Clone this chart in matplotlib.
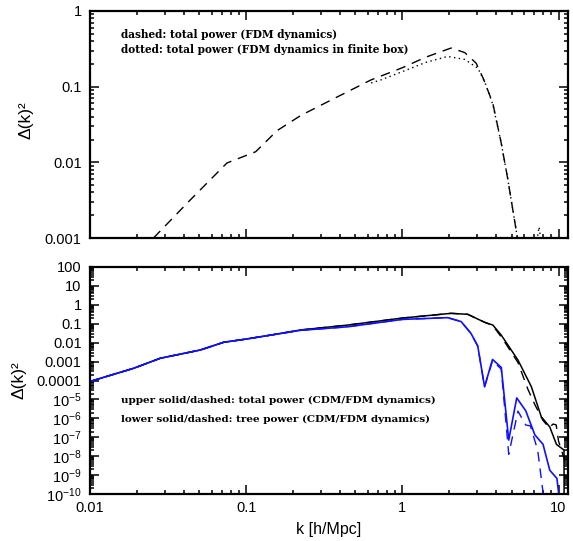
import numpy as np
import matplotlib
matplotlib.use("Agg")
import matplotlib.pyplot as plt
from matplotlib.ticker import LogLocator, FixedLocator, FixedFormatter, NullFormatter

# ---------------- data ----------------
# top panel: FDM total power (dashed) and FDM total power in finite box (dotted)
top_dash_k = [0.0255, 0.0437, 0.0753, 0.115, 0.158, 0.224, 0.355, 0.631, 1.0, 1.41,
              2.05, 2.51, 2.97, 3.31, 3.80, 4.30, 4.74, 5.10, 5.56]
top_dash_D = [0.0010, 0.00316, 0.0098, 0.0138, 0.0263, 0.0417, 0.0676, 0.123, 0.178, 0.245,
              0.324, 0.282, 0.204, 0.126, 0.060, 0.0178, 0.0059, 0.00234, 0.00079]

top_dot_k = [0.631, 0.73, 1.0, 1.41, 1.95, 2.51, 3.05, 3.39, 3.80, 4.30, 4.74, 5.10, 5.56,
             np.nan, 7.2, 7.5, 7.8]
top_dot_D = [0.112, 0.123, 0.158, 0.209, 0.251, 0.229, 0.175, 0.112, 0.0575, 0.0178, 0.0059,
             0.00234, 0.00079, np.nan, 0.0008, 0.0014, 0.0008]

# bottom panel
cdm_total_k = [0.0100, 0.0190, 0.0282, 0.0509, 0.0718, 0.100, 0.143, 0.223, 0.446, 1.00,
               2.05, 2.62, 3.36, 3.80, 4.30, 5.50, 6.70, 7.76, 8.79, 9.70, 10.84, 10.86]
cdm_total_D = [8.9e-5, 4.4e-4, 1.5e-3, 4.1e-3, 1.05e-2, 1.55e-2, 2.5e-2, 4.7e-2, 8.5e-2, 0.20,
               0.355, 0.316, 0.12, 0.085, 0.025, 1.2e-3, 4.7e-5, 1.2e-6, 3.5e-7, 4.2e-8, 2.1e-8, 3e-11]

fdm_total_k = [0.0100, 0.0190, 0.0282, 0.0509, 0.0718, 0.100, 0.143, 0.223, 0.446, 1.00,
               2.05, 2.62, 3.36, 3.80, 4.30, 4.72, 5.50, 6.37, 7.08, 7.94, 8.71, 9.23, 9.66,
               10.0, 10.84, 11.2]
fdm_total_D = [8.9e-5, 4.4e-4, 1.5e-3, 4.1e-3, 1.05e-2, 1.55e-2, 2.5e-2, 4.7e-2, 8.5e-2, 0.20,
               0.355, 0.316, 0.12, 0.079, 0.020, 6.3e-3, 8.9e-4, 3.4e-5, 5e-6, 7.9e-7, 3.2e-7,
               5e-7, 4.5e-7, 6.3e-8, 7.9e-9, 2.5e-9]

cdm_tree_k = [0.0100, 0.0190, 0.0282, 0.0509, 0.0718, 0.100, 0.143, 0.223, 0.446, 1.00,
              1.95, 2.38, 2.75, 3.04, 3.36, 3.78, 4.30, 4.80, 5.40, 6.17, 7.05, 7.96, 8.79,
              9.77, 10.2]
cdm_tree_D = [8.9e-5, 4.4e-4, 1.5e-3, 4.1e-3, 1.05e-2, 1.55e-2, 2.5e-2, 4.5e-2, 6.9e-2, 0.17,
              0.21, 0.13, 0.031, 6.6e-3, 4.7e-5, 1.3e-3, 4.9e-4, 7.1e-8, 1.2e-5, 2.5e-6,
              1.35e-7, 4.2e-8, 1.8e-9, 6.6e-10, 3e-11]

fdm_tree_k = [0.0100, 0.0190, 0.0282, 0.0509, 0.0718, 0.100, 0.143, 0.223, 0.446, 1.00,
              1.95, 2.38, 2.75, 3.04, 3.36, 3.78, 4.30, 4.80, 5.50, 6.17, 6.61, 7.36, 8.13]
fdm_tree_D = [8.9e-5, 4.4e-4, 1.5e-3, 4.1e-3, 1.05e-2, 1.55e-2, 2.5e-2, 4.5e-2, 6.9e-2, 0.17,
              0.21, 0.13, 0.031, 6.6e-3, 4.7e-5, 1.1e-3, 4.0e-4, 1.26e-8, 2.4e-6, 4.4e-7,
              4.0e-7, 2.0e-8, 3e-11]

top_yticks = [0.001, 0.01, 0.1, 1]
top_yticklabels = ["0.001", "0.01", "0.1", "1"]
bot_yticks = [1e2, 1e1, 1, 1e-1, 1e-2, 1e-3, 1e-4, 1e-5, 1e-6, 1e-7, 1e-8, 1e-9, 1e-10]
bot_yticklabels = ["100", "10", "1", "0.1", "0.01", "0.001", "0.0001",
                   r"$10^{-5}$", r"$10^{-6}$", r"$10^{-7}$", r"$10^{-8}$", r"$10^{-9}$", r"$10^{-10}$"]
xticks = [0.01, 0.1, 1, 10]
xticklabels = ["0.01", "0.1", "1", "10"]

top_text = ["dashed: total power (FDM dynamics)",
            "dotted: total power (FDM dynamics in finite box)"]
bot_text = ["upper solid/dashed: total power (CDM/FDM dynamics)",
            "lower solid/dashed: tree power (CDM/FDM dynamics)"]

# ---------------- styling ----------------
plt.rcParams['font.family'] = ['Liberation Sans', 'DejaVu Sans']
plt.rcParams['mathtext.fontset'] = 'custom'
plt.rcParams['mathtext.rm'] = 'Liberation Sans'
plt.rcParams['mathtext.it'] = 'Liberation Sans'

W, H = 573, 541
fig = plt.figure(figsize=(W / 100, H / 100), dpi=100)

def px_axes(x0, y0, x1, y1):
    return fig.add_axes([x0 / W, 1 - y1 / H, (x1 - x0) / W, (y1 - y0) / H])

ax1 = px_axes(90, 11, 568, 238)
ax2 = px_axes(90, 267, 568, 494)

XMIN, XMAX = 0.01, 11.5
TICKFS = 10.5
BLUE = '#1010ff'

for ax in (ax1, ax2):
    ax.set_xscale('log')
    ax.set_yscale('log')
    ax.set_xlim(XMIN, XMAX)
    for s in ax.spines.values():
        s.set_linewidth(1.6)
    ax.tick_params(which='both', direction='in', top=True, right=True, width=1.1, labelsize=TICKFS)
    ax.tick_params(which='major', length=6.5, pad=6)
    ax.tick_params(which='minor', length=3.2)
    ax.xaxis.set_major_locator(FixedLocator(xticks))
    ax.xaxis.set_minor_locator(LogLocator(base=10, subs=np.arange(2, 10), numticks=20))
    ax.yaxis.set_minor_locator(LogLocator(base=10, subs=np.arange(2, 10), numticks=40))
    ax.xaxis.set_minor_formatter(NullFormatter())
    ax.yaxis.set_minor_formatter(NullFormatter())

# top panel
ax1.set_ylim(0.001, 1)
ax1.yaxis.set_major_locator(FixedLocator(top_yticks))
ax1.yaxis.set_major_formatter(FixedFormatter(top_yticklabels))
ax1.xaxis.set_major_formatter(NullFormatter())
ax1.plot(top_dash_k, top_dash_D, color='black', lw=1.0, linestyle=(0, (7, 5)))
ax1.plot(top_dot_k, top_dot_D, color='black', lw=1.0, linestyle=(0, (1, 2.5)))
ax1.set_ylabel("Δ(k)²", fontsize=12.5)
ax1.yaxis.set_label_coords((34 - 90) / 478, 0.52)
for i, t in enumerate(top_text):
    ax1.text(121 / W, 1 - (34 + 15.5 * i) / H, t, transform=fig.transFigure,
             fontsize=7.6, fontweight='bold', family='DejaVu Serif', va='center', ha='left')

# bottom panel
ax2.set_ylim(1e-10, 100)
ax2.yaxis.set_major_locator(FixedLocator(bot_yticks))
ax2.yaxis.set_major_formatter(FixedFormatter(bot_yticklabels))
ax2.xaxis.set_major_formatter(FixedFormatter(xticklabels))
ax2.tick_params(axis='x', pad=5)
ax2.plot(cdm_total_k, cdm_total_D, color='black', lw=1.1)
ax2.plot(fdm_total_k, fdm_total_D, color='black', lw=1.0, linestyle=(0, (7, 5)))
ax2.plot(fdm_tree_k, fdm_tree_D, color=BLUE, lw=1.0, linestyle=(0, (7, 5)))
ax2.plot(cdm_tree_k, cdm_tree_D, color=BLUE, lw=1.2)
ax2.set_ylabel("Δ(k)²", fontsize=12.5)
ax2.yaxis.set_label_coords((26 - 90) / 478, 0.5)
ax2.set_xlabel("k [h/Mpc]", fontsize=11.5, labelpad=5)
for i, t in enumerate(bot_text):
    ax2.text(121 / W, 1 - (400 + 19 * i) / H, t, transform=fig.transFigure,
             fontsize=7.45, fontweight='bold', family='DejaVu Serif', va='center', ha='left')

fig.savefig("out.png", dpi=100)
